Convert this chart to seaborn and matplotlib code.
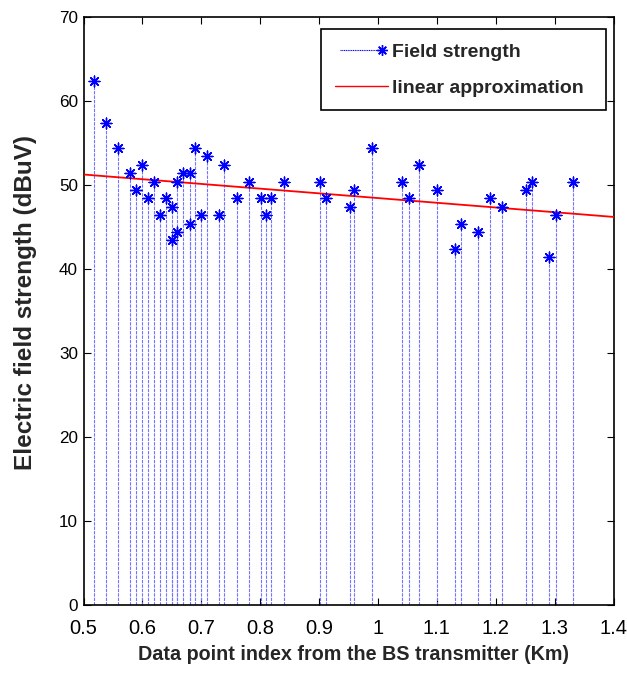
import numpy as np
import pandas as pd
import matplotlib
matplotlib.use("Agg")
import matplotlib.pyplot as plt
from matplotlib.lines import Line2D
from matplotlib.legend_handler import HandlerLine2D
import seaborn as sns

# Measured field strength along the drive route
distance_km = [0.518, 0.539, 0.559, 0.579, 0.589, 0.599, 0.610, 0.619, 0.630,
               0.640, 0.650, 0.650, 0.659, 0.659, 0.669, 0.680, 0.680, 0.690,
               0.700, 0.710, 0.730, 0.739, 0.760, 0.781, 0.801, 0.810, 0.819,
               0.840, 0.901, 0.911, 0.952, 0.960, 0.990, 1.040, 1.052, 1.070,
               1.101, 1.131, 1.141, 1.170, 1.190, 1.211, 1.252, 1.262, 1.291,
               1.302, 1.332]
field_dbuv = [62.4, 57.4, 54.4, 51.4, 49.4, 52.4, 48.4, 50.4, 46.4,
              48.4, 47.4, 43.4, 44.4, 50.4, 51.4, 45.4, 51.4, 54.4,
              46.4, 53.4, 46.4, 52.4, 48.4, 50.4, 48.4, 46.4, 48.4,
              50.4, 50.4, 48.4, 47.4, 49.4, 54.4, 50.4, 48.4, 52.4,
              49.4, 42.4, 45.4, 44.4, 48.4, 47.4, 49.4, 50.4, 41.4,
              46.4, 50.4]

# Linear approximation end points
fit_km = [0.5, 1.4]
fit_dbuv = [51.25, 46.2]

x_ticks = [0.5, 0.6, 0.7, 0.8, 0.9, 1.0, 1.1, 1.2, 1.3, 1.4]
x_tick_labels = ["0.5", "0.6", "0.7", "0.8", "0.9", "1", "1.1", "1.2", "1.3", "1.4"]
y_ticks = [0, 10, 20, 30, 40, 50, 60, 70]

sns.set_style("ticks")
plt.rcParams["font.family"] = ["Liberation Sans", "DejaVu Sans"]

meas = pd.DataFrame({"km": distance_km, "dbuv": field_dbuv})
fit = pd.DataFrame({"km": fit_km, "dbuv": fit_dbuv})

W, H = 627, 678
fig = plt.figure(figsize=(W / 100, H / 100), dpi=100)
ax = fig.add_axes([83.5 / W, 1 - 605 / H, 530 / W, 588 / H])

STEM_COLOR = (0.45, 0.45, 1.0)
STAR = (8, 2, 0)

# stems
ax.vlines(meas["km"], 0, meas["dbuv"], colors=[STEM_COLOR], linewidths=0.8,
          linestyles=(0, (3, 1)), zorder=2)
# markers
sns.scatterplot(data=meas, x="km", y="dbuv", marker=STAR, s=60, color="#0000ff",
                linewidth=1.0, ax=ax, zorder=4, legend=False)
# linear approximation
sns.lineplot(data=fit, x="km", y="dbuv", color="#ff0000", linewidth=1.3, ax=ax,
             zorder=3, legend=False)

ax.set_xlim(0.5, 1.4)
ax.set_ylim(0, 70)
ax.set_xticks(x_ticks)
ax.set_xticklabels(x_tick_labels)
ax.set_yticks(y_ticks)
ax.tick_params(axis="x", labelsize=14.5, pad=10)
ax.tick_params(axis="y", labelsize=12.3, pad=4)
ax.tick_params(direction="in", length=5, width=0.8, color="black",
               top=True, right=True, labelcolor="black")
for sp in ax.spines.values():
    sp.set_visible(True)
    sp.set_color("black")
    sp.set_linewidth(1.2)

ax.set_xlabel("Data point index from the BS transmitter (Km)", fontsize=14.2,
              fontweight="bold")
ax.xaxis.set_label_coords((353 - 83.5) / 530, (605 - 645) / 588)
ax.set_ylabel("Electric field strength (dBuV)", fontsize=17.5,
              fontweight="bold")
ax.yaxis.set_label_coords((37 - 83.5) / 530, (605 - 303) / 588)


class EndMarkerHandler(HandlerLine2D):
    def create_artists(self, legend, orig_handle, xdescent, ydescent, width,
                       height, fontsize, trans):
        artists = super().create_artists(legend, orig_handle, xdescent, ydescent,
                                         width, height, fontsize, trans)
        for a in artists:
            a.set_markevery([1])
        return artists


h_field = Line2D([], [], color="#0000ff", linewidth=0.8, linestyle=(0, (1, 0.6)),
                 marker=STAR, markersize=7.6, markeredgewidth=1.0)
h_fit = Line2D([], [], color="#ff0000", linewidth=1.0)
leg_x0, leg_y0, leg_x1 = 321, 29.3, 606
leg = ax.legend([h_field, h_fit], ["Field strength", "linear approximation"],
                handler_map={h_field: EndMarkerHandler(numpoints=2)},
                loc="upper left", mode="expand",
                bbox_to_anchor=(leg_x0 / W, 1 - leg_y0 / H,
                                (leg_x1 - leg_x0) / W, 0),
                bbox_transform=fig.transFigure, borderaxespad=0,
                prop={"weight": "bold", "size": 14},
                frameon=True, fancybox=False, framealpha=1, edgecolor="black",
                handlelength=2.75, handletextpad=0.2, labelspacing=0.95,
                borderpad=0.7)
leg.get_frame().set_linewidth(1.2)

fig.savefig("out.png", dpi=100)
